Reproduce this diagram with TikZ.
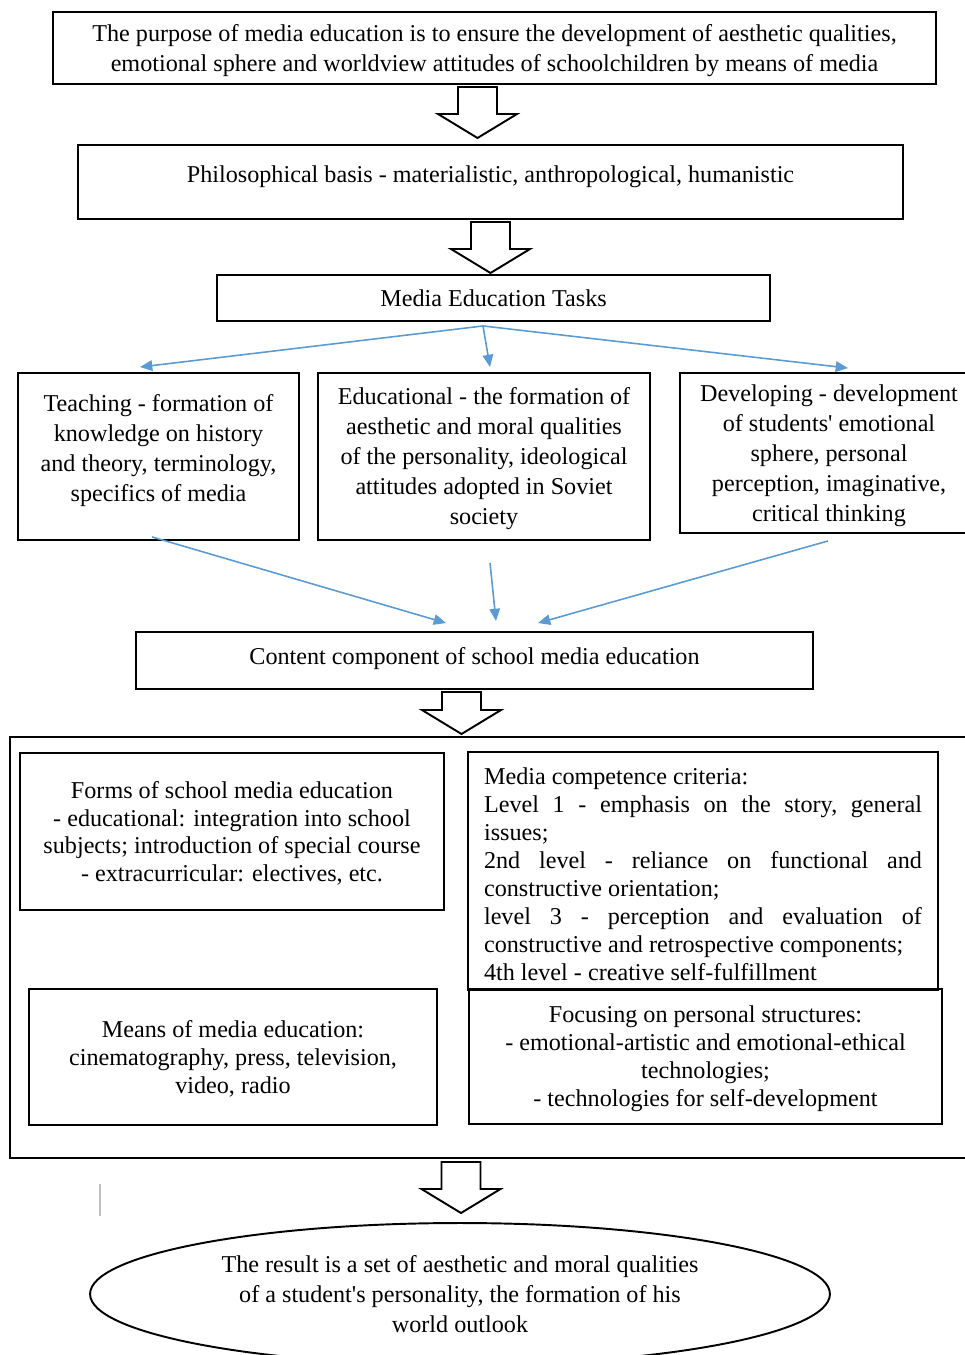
\documentclass[tikz,border=0pt]{standalone}
\usepackage{fontspec}
\setmainfont{Liberation Serif}
\usetikzlibrary{arrows.meta,shapes.geometric}
\definecolor{flowblue}{HTML}{5B9BD5}
\newcommand{\blockdown}[3]{\draw[bigarrow] (#1-19.5,#2) -- (#1+19.5,#2) -- (#1+19.5,#3-24) -- (#1+39.5,#3-24) -- (#1,#3) -- (#1-39.5,#3-24) -- (#1-19.5,#3-24) -- cycle;}

\begin{document}
\begin{tikzpicture}[x=0.02cm, y=-0.02cm,
  box/.style={draw, line width=1.1pt, align=flush center, inner sep=0pt, font=\fontsize{13.75}{17.07}\selectfont},
  lowbox/.style={box, font=\fontsize{13.75}{15.9}\selectfont},
  flow/.style={flowblue, line width=0.9pt, -{Triangle[length=7pt,width=6pt]}},
  bigarrow/.style={draw, line width=1.1pt, fill=white}]
  \useasboundingbox (0,0) rectangle (964,1355);

  \node[box, minimum width=17.66cm, minimum height=1.44cm, text depth=-0.13cm] (purpose) at (494.5,48) {The purpose of media education is to ensure the development of aesthetic qualities,\\emotional sphere and worldview attitudes of schoolchildren by means of media};
  \node[box, minimum width=16.5cm, minimum height=1.48cm, text depth=0.30cm] (philo) at (490.5,182) {Philosophical basis - materialistic, anthropological, humanistic};
  \node[box, minimum width=11.06cm, minimum height=0.92cm] (tasks) at (493.5,298) {Media Education Tasks};

  \node[box, minimum width=5.62cm, minimum height=3.34cm, text depth=0.34cm] (teach) at (158.5,456.5) {Teaching - formation of\\knowledge on history\\and theory, terminology,\\specifics of media};
  \node[box, minimum width=6.64cm, minimum height=3.34cm, text depth=0.02cm] (educ) at (484,456.5) {Educational - the formation of\\aesthetic and moral qualities\\of the personality, ideological\\attitudes adopted in Soviet\\society};
  \node[box, minimum width=5.96cm, minimum height=3.2cm, text depth=-0.135cm] (devel) at (829,453) {Developing - development\\of students\textquotesingle{} emotional\\sphere, personal\\perception, imaginative,\\critical thinking};

  \node[box, minimum width=13.54cm, minimum height=1.14cm, text depth=0.185cm] (content) at (474.5,660.5) {Content component of school media education};

  \node[draw, line width=1.1pt, minimum width=19.3cm, minimum height=8.42cm, inner sep=0pt] (frame) at (492.5,947.5) {};
  \node[lowbox, minimum width=8.48cm, minimum height=3.14cm, text depth=-0.14cm] (forms) at (232,831.5) {Forms of school media education\\- educational: integration into school\\subjects; introduction of special course\\- extracurricular: electives, etc.};
  \node[lowbox, minimum width=9.4cm, minimum height=4.76cm, text width=8.76cm, align=flush left, text depth=3.79cm] (criteria) at (703,871) {Media competence criteria:\\
    \makebox[8.76cm][s]{Level\hfill 1\hfill -\hfill emphasis\hfill on\hfill the\hfill story,\hfill general}\\
    issues;\\
    \makebox[8.76cm][s]{2nd\hfill level\hfill -\hfill reliance\hfill on\hfill functional\hfill and}\\
    constructive orientation;\\
    \makebox[8.76cm][s]{level\hfill 3\hfill -\hfill perception\hfill and\hfill evaluation\hfill of}\\
    constructive and retrospective components;\\
    4th level - creative self-fulfillment};
  \node[lowbox, minimum width=8.16cm, minimum height=2.72cm, text depth=-0.09cm] (means) at (233,1057) {Means of media education:\\cinematography, press, television,\\video, radio};
  \node[lowbox, minimum width=9.46cm, minimum height=2.7cm, text depth=-0.08cm] (focus) at (705.5,1056.5) {Focusing on personal structures:\\- emotional-artistic and emotional-ethical\\technologies;\\- technologies for self-development};

  \node[box, ellipse, minimum width=14.8cm, minimum height=2.84cm, text depth=-0.24cm] (result) at (460,1294) {The result is a set of aesthetic and moral qualities\\of a student\textquotesingle{}s personality, the formation of his\\world outlook};

  \blockdown{477.5}{87}{138}
  \blockdown{490.5}{222}{273}
  \blockdown{461.5}{692}{734}
  \blockdown{461}{1162}{1213}

  \coordinate (fork) at ([shift={(-10.5,4)}]tasks.south);
  \draw[flow] (fork) -- ([shift={(-18.5,-5)}]teach.north);
  \draw[flow] (fork) -- ([shift={(6,-5)}]educ.north);
  \draw[flow] (fork) -- ([shift={(19,-4)}]devel.north);
  \draw[flow] ([shift={(-6.5,-4)}]teach.south) -- ([shift={(-28.5,-8)}]content.north);
  \draw[flow] ([shift={(6,22)}]educ.south) -- ([shift={(21.5,-10)}]content.north);
  \draw[flow] ([shift={(-1,7)}]devel.south) -- ([shift={(63.5,-8)}]content.north);

  \draw[gray!50, line width=0.6pt] (100,1184) -- (100,1216);
\end{tikzpicture}
\end{document}
